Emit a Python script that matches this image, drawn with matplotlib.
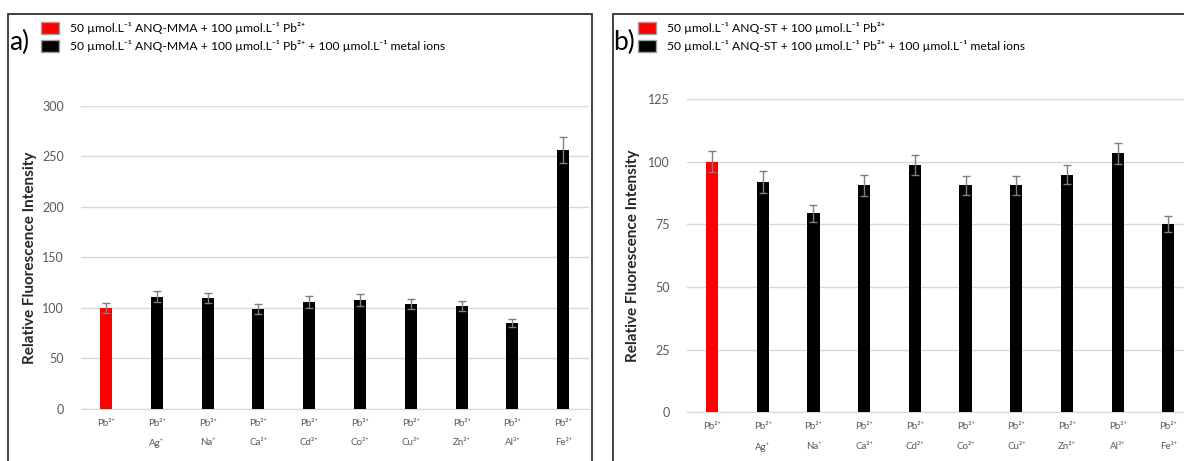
import matplotlib.pyplot as plt
from matplotlib.patches import Patch, Rectangle

plt.rcParams['font.family'] = ['Lato', 'DejaVu Sans']

# datos
ions = ['', 'Ag⁺', 'Na⁺', 'Ca²⁺', 'Cd²⁺', 'Co²⁺', 'Cu²⁺', 'Zn²⁺', 'Al³⁺', 'Fe³⁺']
mma_vals = [100, 111, 110, 98.5, 106, 107.5, 104, 101.5, 85.5, 256]
mma_err = [5, 5.5, 5, 5, 6, 6, 5, 5, 4, 13]
st_vals = [100, 92, 79.5, 90.5, 98.7, 90.5, 90.5, 94.7, 103.3, 75]
st_err = [4.3, 4.3, 3.4, 4.2, 4, 3.6, 3.6, 3.8, 4.3, 3.2]

labels = ['Pb²⁺\n' + ion if ion else 'Pb²⁺' for ion in ions]
colores = ['#ff0000'] + ['#000000'] * 9

W, H = 1184, 461
fig = plt.figure(figsize=(W / 100, H / 100), dpi=100)

paneles = [
    dict(pos=[80.6 / W, 1 - 409 / H, 508 / W, (409 - 105.7) / H], vals=mma_vals, err=mma_err,
         ymax=300, step=50, name='ANQ-MMA', letra='a)', lx=9, legx=41, rect=(8, 592),
         ylab_x=-0.086),
    dict(pos=[686.7 / W, 1 - 412.4 / H, 507 / W, (412.4 - 99) / H], vals=st_vals, err=st_err,
         ymax=125, step=25, name='ANQ-ST', letra='b)', lx=613, legx=638, rect=(613, 1210),
         ylab_x=-0.092),
]

for p in paneles:
    ax = fig.add_axes(p['pos'])
    x = range(len(labels))
    ax.bar(x, p['vals'], width=0.24, color=colores, zorder=3,
           yerr=p['err'], error_kw=dict(ecolor='#7f7f7f', elinewidth=1, capsize=3, capthick=1))
    ax.set_xlim(-0.5, 9.5)
    ax.set_ylim(0, p['ymax'])
    ax.set_yticks(range(0, p['ymax'] + 1, p['step']))
    ax.set_xticks(list(x))
    ax.set_xticklabels(labels, fontsize=7, color='#595959', linespacing=2.5, va='top')
    ax.tick_params(axis='y', length=0, pad=12, labelsize=9, labelcolor='#595959')
    ax.tick_params(axis='x', length=0, pad=7)
    ax.grid(axis='y', color='#d9d9d9', linewidth=1, zorder=0)
    for s in ['top', 'right', 'left']:
        ax.spines[s].set_visible(False)
    ax.spines['bottom'].set_color('#d9d9d9')
    ax.set_ylabel('Relative Fluorescence Intensity', fontsize=11, fontweight='bold', color='#262626')
    ax.yaxis.set_label_coords(p['ylab_x'], 0.5)

    # leyenda
    handles = [Patch(facecolor='#ff0000', edgecolor='#a0a0a0'),
               Patch(facecolor='#000000', edgecolor='#a0a0a0')]
    textos = ['50 µmol.L⁻¹ ' + p['name'] + ' + 100 µmol.L⁻¹ Pb²⁺',
              '50 µmol.L⁻¹ ' + p['name'] + ' + 100 µmol.L⁻¹ Pb²⁺ + 100 µmol.L⁻¹ metal ions']
    fig.legend(handles, textos, loc='upper left', bbox_to_anchor=(p['legx'] / W, 1 - 22 / H),
               frameon=False, fontsize=8.7, handlelength=1.5, handleheight=1.15,
               handletextpad=0.9, labelspacing=0.45, borderaxespad=0, borderpad=0)
    fig.text(p['lx'] / W, 1 - 42 / H, p['letra'], fontsize=19, va='center', ha='left')

    x0, x1 = p['rect']
    fig.add_artist(Rectangle((x0 / W, -0.1), (x1 - x0) / W, 1.1 - 14 / H,
                             transform=fig.transFigure, fill=False, edgecolor='#333333', linewidth=1.3))

fig.savefig('out.png', dpi=100)
